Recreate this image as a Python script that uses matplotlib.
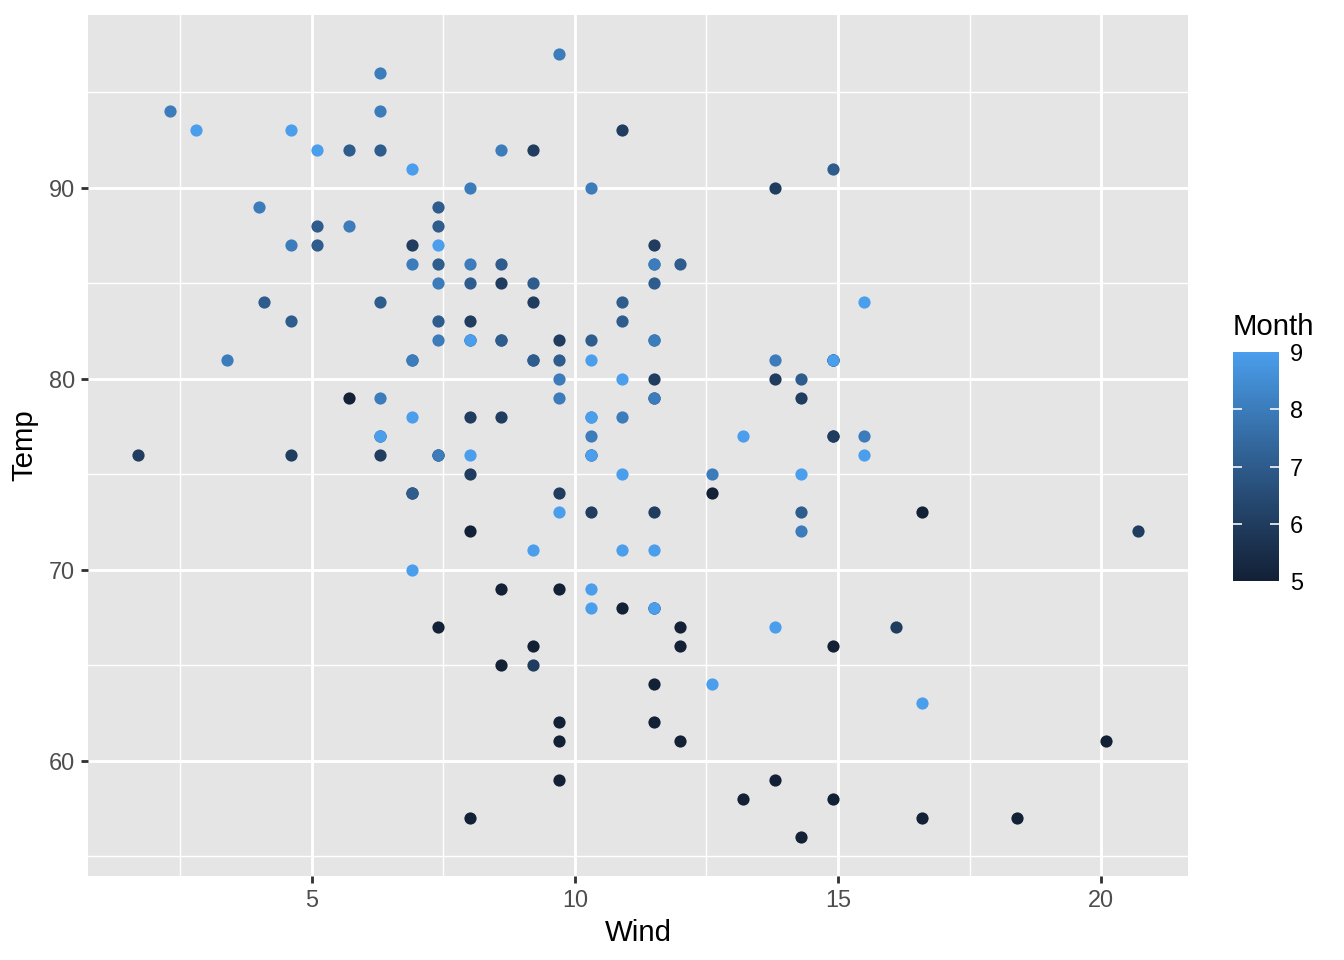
import numpy as np
import matplotlib
matplotlib.use("Agg")
import matplotlib.pyplot as plt
from matplotlib.colors import ListedColormap, Normalize

plt.rcParams["font.family"] = ["Liberation Sans", "DejaVu Sans"]

# airquality: Wind / Temp by month
wind_may = [7.4, 8.0, 12.6, 11.5, 14.3, 14.9, 8.6, 13.8, 20.1, 8.6, 6.9, 9.7, 9.2, 10.9, 13.2, 11.5,
            12.0, 18.4, 11.5, 9.7, 9.7, 16.6, 9.7, 12.0, 16.6, 14.9, 8.0, 12.0, 14.9, 5.7, 7.4]
temp_may = [67, 72, 74, 62, 56, 66, 65, 59, 61, 69, 74, 69, 66, 68, 58, 64,
            66, 57, 68, 62, 59, 73, 61, 61, 57, 58, 57, 67, 81, 79, 76]
wind_jun = [8.6, 9.7, 16.1, 9.2, 8.6, 14.3, 9.7, 6.9, 13.8, 11.5, 10.9, 9.2, 8.0, 13.8, 11.5,
            14.9, 20.7, 9.2, 11.5, 10.3, 6.3, 1.7, 4.6, 6.3, 8.0, 8.0, 10.3, 11.5, 14.9, 8.0]
temp_jun = [78, 74, 67, 84, 85, 79, 82, 87, 90, 87, 93, 92, 82, 80, 79,
            77, 72, 65, 73, 76, 77, 76, 76, 76, 75, 78, 73, 80, 77, 83]
wind_jul = [4.1, 9.2, 9.2, 10.9, 4.6, 10.9, 5.1, 6.3, 5.7, 7.4, 8.6, 14.3, 14.9, 14.9, 14.3, 6.9,
            10.3, 6.3, 5.1, 11.5, 6.9, 9.7, 11.5, 8.6, 8.0, 8.6, 12.0, 7.4, 7.4, 7.4, 9.2]
temp_jul = [84, 85, 81, 84, 83, 83, 88, 92, 92, 89, 82, 73, 81, 91, 80, 81,
            82, 84, 87, 85, 74, 81, 82, 86, 85, 82, 86, 88, 86, 83, 81]
wind_aug = [6.9, 13.8, 7.4, 6.9, 7.4, 4.6, 4.0, 10.3, 8.0, 8.6, 11.5, 11.5, 11.5, 9.7, 11.5, 10.3,
            6.3, 7.4, 10.9, 10.3, 15.5, 14.3, 12.6, 9.7, 3.4, 8.0, 5.7, 9.7, 2.3, 6.3, 6.3]
temp_aug = [81, 81, 82, 86, 85, 87, 89, 90, 90, 92, 86, 86, 82, 80, 79, 77,
            79, 76, 78, 78, 77, 72, 75, 79, 81, 86, 88, 97, 94, 96, 94]
wind_sep = [6.9, 5.1, 2.8, 4.6, 7.4, 15.5, 10.9, 10.3, 10.9, 9.7, 14.9, 15.5, 6.3, 10.9, 11.5,
            6.9, 13.8, 10.3, 10.3, 8.0, 12.6, 9.2, 10.3, 10.3, 16.6, 6.9, 13.2, 14.3, 8.0, 11.5]
temp_sep = [91, 92, 93, 93, 87, 84, 80, 78, 75, 73, 81, 76, 77, 71, 71,
            78, 67, 76, 68, 82, 64, 71, 81, 69, 63, 70, 77, 75, 76, 68]
months = [5, 6, 7, 8, 9]


def srgb_to_lab(hexcol):
    rgb = np.array([int(hexcol[i:i + 2], 16) / 255 for i in (1, 3, 5)])
    lin = np.where(rgb <= 0.04045, rgb / 12.92, ((rgb + 0.055) / 1.055) ** 2.4)
    M = np.array([[0.4124, 0.3576, 0.1805], [0.2126, 0.7152, 0.0722], [0.0193, 0.1192, 0.9505]])
    xyz = M @ lin / np.array([0.95047, 1.0, 1.08883])
    f = np.where(xyz > 0.008856, np.cbrt(xyz), 7.787 * xyz + 16 / 116)
    return np.array([116 * f[1] - 16, 500 * (f[0] - f[1]), 200 * (f[1] - f[2])])


def lab_to_srgb(lab):
    fy = (lab[..., 0] + 16) / 116
    fx = fy + lab[..., 1] / 500
    fz = fy - lab[..., 2] / 200
    f = np.stack([fx, fy, fz], axis=-1)
    xyz = np.where(f ** 3 > 0.008856, f ** 3, (f - 16 / 116) / 7.787) * np.array([0.95047, 1.0, 1.08883])
    Minv = np.array([[3.2406, -1.5372, -0.4986], [-0.9689, 1.8758, 0.0415], [0.0557, -0.2040, 1.0570]])
    lin = xyz @ Minv.T
    rgb = np.where(lin <= 0.0031308, 12.92 * lin, 1.055 * np.clip(lin, 0, None) ** (1 / 2.4) - 0.055)
    return np.clip(rgb, 0, 1)


# gradient ends as they show in the picture
lo, hi = srgb_to_lab("#132137"), srgb_to_lab("#4A9EEC")
t = np.linspace(0, 1, 256)[:, None]
cmap = ListedColormap(lab_to_srgb(lo + t * (hi - lo)))
norm = Normalize(5, 9)

W = 1344
H = 960
fig = plt.figure(figsize=(7, 5), dpi=192)
ax = fig.add_axes([88 / W, (H - 876) / H, (1188 - 88) / W, (876 - 15) / H])
ax.set_facecolor("#E5E5E5")
for s in ax.spines.values():
    s.set_visible(False)

ax.set_xlim(0.75, 21.65)
ax.set_ylim(53.95, 99.05)
ax.set_xticks([5, 10, 15, 20])
ax.set_yticks([60, 70, 80, 90])
ax.set_xticks([2.5, 7.5, 12.5, 17.5], minor=True)
ax.set_yticks([55, 65, 75, 85, 95], minor=True)
ax.grid(which="major", color="white", lw=1.07)
ax.grid(which="minor", color="white", lw=0.53)
ax.set_axisbelow(True)
ax.tick_params(which="major", length=2.75, width=1.07, color="#333333",
               labelsize=8.8, labelcolor="#4D4D4D", pad=2.2)
ax.tick_params(which="minor", length=0)

winds = [wind_may, wind_jun, wind_jul, wind_aug, wind_sep]
temps = [temp_may, temp_jun, temp_jul, temp_aug, temp_sep]
for m, w, tp in zip(months, winds, temps):
    ax.scatter(w, tp, s=21, color=cmap(norm(m)), linewidths=0, zorder=3)

ax.set_xlabel("Wind", fontsize=11, labelpad=2.5)
ax.set_ylabel("Temp", fontsize=11, labelpad=4)

# colourbar legend
cax = fig.add_axes([1233 / W, (H - 581) / H, 46 / W, (581 - 352) / H])
grad = np.linspace(5, 9, 300)[:, None]
cax.imshow(grad, cmap=cmap, norm=norm, aspect="auto", origin="lower", extent=[0, 1, 5, 9])
for m in months[1:-1]:
    cax.plot([0, 0.2], [m, m], color="white", lw=0.6, solid_capstyle="butt")
    cax.plot([0.8, 1], [m, m], color="white", lw=0.6, solid_capstyle="butt")
cax.set_xlim(0, 1)
cax.set_ylim(5, 9)
cax.set_xticks([])
cax.set_yticks(months)
cax.yaxis.tick_right()
cax.tick_params(length=0, labelsize=8.8, labelcolor="black", pad=4)
for s in cax.spines.values():
    s.set_visible(False)
fig.text(1233 / W, 1 - 335 / H, "Month", fontsize=11, ha="left", va="baseline")

fig.savefig("out.png", dpi=192)
